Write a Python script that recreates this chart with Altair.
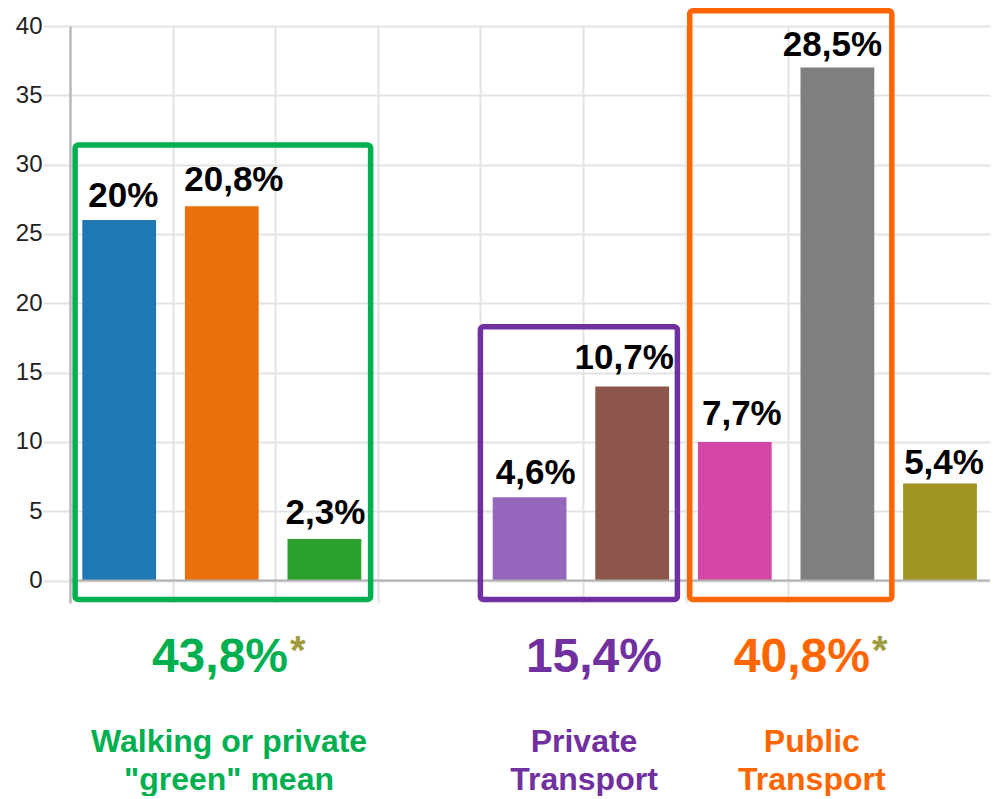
import altair as alt
import pandas as pd

# ---------------- data ----------------
slots = [0, 1, 2, 4, 5, 6, 7, 8]                 # position of each bar (slot 3 is empty)
modes = ["Mode A", "Mode B", "Mode C", "Mode D", "Mode E", "Mode F", "Mode G", "Mode H"]
counts = [26, 27, 3, 6, 14, 10, 37, 7]
pct_labels = ["20%", "20,8%", "2,3%", "4,6%", "10,7%", "7,7%", "28,5%", "5,4%"]

group_totals = ["43,8%", "15,4%", "40,8%"]
group_names = ['Walking or private\n"green" mean', "Private\nTransport", "Public\nTransport"]
group_has_star = [True, False, True]

y_ticks = [0, 5, 10, 15, 20, 25, 30, 35, 40]

# ---------------- style ----------------
bar_colors = ["#1f77b4", "#e9700a", "#2ca02c", "#9467bd", "#8c564b", "#d447a6", "#7f7f7f", "#a09520"]
group_colors = ["#00b050", "#7030a0", "#ff6600"]
star_color = "#9e9c3c"
FONT = "Liberation Sans"
SLOT_PX = 102.6
UNIT_PX = 13.86
X_MAX = 920 / SLOT_PX
Y_MIN = -1.62

# label nudges (pixels)
label_dx = [4, 12, 1, 6, -8, 7, -5, 4]
label_gap = [12.6, 15.3, 15.3, 13.4, 17.7, 16.7, 11.7, 9.3]

# annotation boxes, in slot / value units
box_x = [0.05, 4.0, 6.04]
box_x2 = [2.93, 5.92, 8.01]
box_top = [31.42, 18.31, 41.1]
box_bottom = -1.37
# annotation text anchors, in slot / value units
total_x_end = [2.125, 5.77, 7.797]
total_y = -6.58
name_x = [1.55, 5.01, 7.23]
name_y = -12.35

# ---------------- tables ----------------
bars = pd.DataFrame({
    "mode": modes,
    "x": [s + 0.12 for s in slots],
    "x2": [s + 0.839 for s in slots],
    "y": counts,
    "label": pct_labels,
    "lx": [s + 0.48 + d / SLOT_PX for s, d in zip(slots, label_dx)],
    "ly": [c + g / UNIT_PX for c, g in zip(counts, label_gap)],
    "color": bar_colors,
})
boxes = pd.DataFrame({"x": box_x, "x2": box_x2, "y": box_top,
                      "y2": [box_bottom] * 3, "color": group_colors})
totals = pd.DataFrame({"x": total_x_end, "y": [total_y] * 3, "t": group_totals,
                       "color": group_colors, "star": group_has_star})
names = pd.DataFrame({"x": name_x, "y": [name_y] * 3, "t": group_names, "color": group_colors})
zero = pd.DataFrame({"y": [0]})

xs = alt.Scale(domain=[0, X_MAX], nice=False, zero=False)
ys = alt.Scale(domain=[Y_MIN, 40], nice=False, zero=False)

grid_c = "#e3e3e3"
ax_x = alt.Axis(values=list(range(9)), labels=False, ticks=False, domain=False, grid=True,
                gridColor=grid_c, gridWidth=2, title=None)
ax_y = alt.Axis(values=y_ticks, tickSize=27, tickColor=grid_c, tickWidth=2, labelPadding=1,
                labelFontSize=24, labelFont=FONT, labelColor="#222222", grid=True,
                gridColor=grid_c, gridWidth=2, domain=True, domainColor="#bbbbbb",
                domainWidth=2.5, title=None)


def X(f):
    return alt.X(f, scale=xs, axis=ax_x)


def Y(f):
    return alt.Y(f, scale=ys, axis=ax_y)


bar_layer = alt.Chart(bars).mark_bar().encode(
    x=X("x:Q"), x2="x2:Q", y=Y("y:Q"), y2=alt.Y2(datum=0),
    color=alt.Color("color:N", scale=None),
)

zero_layer = alt.Chart(zero).mark_rule(color="#b0b0b0", strokeWidth=2).encode(y=Y("y:Q"))

label_layer = alt.Chart(bars).mark_text(
    font=FONT, fontSize=35, fontWeight="bold", color="#000000",
    align="center", baseline="alphabetic"
).encode(x=X("lx:Q"), y=Y("ly:Q"), text="label:N")

box_layer = alt.Chart(boxes).mark_rect(fillOpacity=0, strokeWidth=5.5, cornerRadius=3).encode(
    x=X("x:Q"), x2="x2:Q", y=Y("y:Q"), y2="y2:Q",
    stroke=alt.Stroke("color:N", scale=None),
)

total_layer = alt.Chart(totals).mark_text(
    font=FONT, fontSize=48, fontWeight="bold", align="right", baseline="alphabetic"
).encode(x=X("x:Q"), y=Y("y:Q"), text="t:N", color=alt.Color("color:N", scale=None))

star_layer = alt.Chart(totals).transform_filter("datum.star").mark_text(
    font=FONT, fontSize=40, fontWeight="bold", align="left", baseline="alphabetic",
    color=star_color, dx=2, dy=-8, text="*"
).encode(x=X("x:Q"), y=Y("y:Q"))

name_layer = alt.Chart(names).mark_text(
    font=FONT, fontSize=32, fontWeight="bold", align="center", baseline="alphabetic",
    lineBreak="\n", lineHeight=38
).encode(x=X("x:Q"), y=Y("y:Q"), text="t:N", color=alt.Color("color:N", scale=None))

chart = alt.layer(
    bar_layer, zero_layer, label_layer, box_layer, total_layer, star_layer, name_layer
).properties(
    width=920, height=577,
    padding={"left": 7, "right": 0, "top": 0, "bottom": 0},
    background="white",
).configure_view(stroke=None)

chart.save("out.html", embed_options={"renderer": "svg", "actions": False})
